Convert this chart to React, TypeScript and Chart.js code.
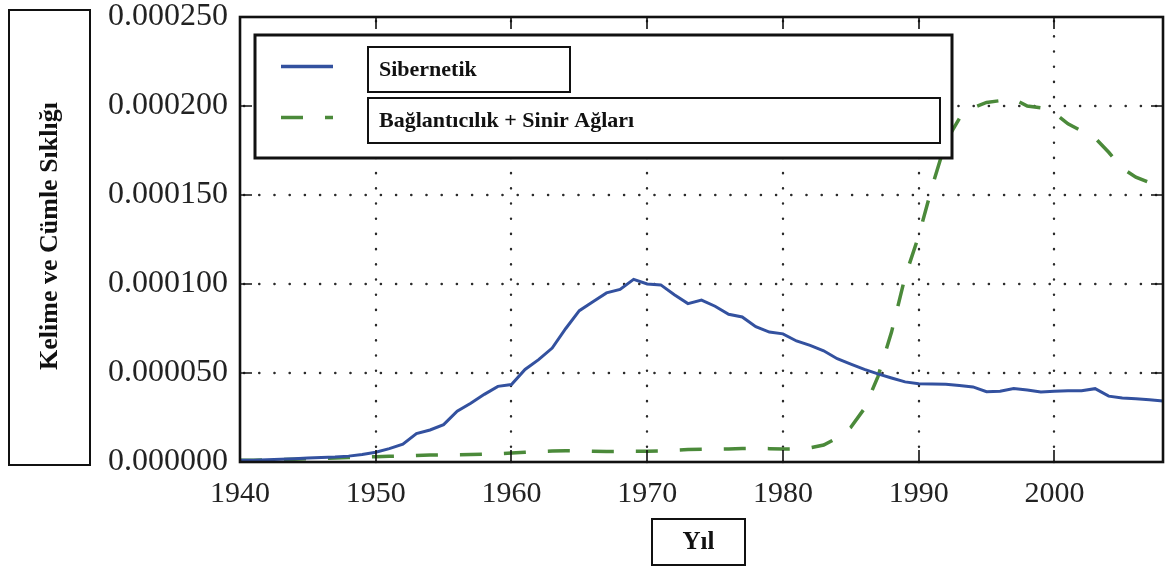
import React, { useEffect, useRef } from "react";
import { Chart, registerables } from "chart.js";

Chart.register(...registerables);

const years: number[] = [];
for (let y = 1940; y <= 2008; y++) years.push(y);

const sibernetik: number[] = [
  1.0e-6, 1.0e-6, 1.2e-6, 1.5e-6, 1.8e-6, 2.2e-6, 2.5e-6, 2.8e-6, 3.3e-6, 4.2e-6, // 1940-1949
  5.5e-6, 7.5e-6, 1.0e-5, 1.6e-5, 1.8e-5, 2.1e-5, 2.85e-5, 3.3e-5, 3.8e-5, 4.25e-5, // 1950-1959
  4.35e-5, 5.2e-5, 5.75e-5, 6.4e-5, 7.5e-5, 8.5e-5, 9.0e-5, 9.5e-5, 9.7e-5, 1.026e-4, // 1960-1969
  1.0e-4, 9.95e-5, 9.4e-5, 8.9e-5, 9.1e-5, 8.75e-5, 8.3e-5, 8.15e-5, 7.6e-5, 7.3e-5, // 1970-1979
  7.2e-5, 6.8e-5, 6.55e-5, 6.25e-5, 5.8e-5, 5.5e-5, 5.2e-5, 4.95e-5, 4.72e-5, 4.5e-5, // 1980-1989
  4.4e-5, 4.38e-5, 4.37e-5, 4.3e-5, 4.22e-5, 3.95e-5, 3.97e-5, 4.13e-5, 4.05e-5, 3.93e-5, // 1990-1999
  3.97e-5, 4.0e-5, 4.0e-5, 4.12e-5, 3.7e-5, 3.6e-5, 3.56e-5, 3.5e-5, 3.42e-5, // 2000-2008
];

const baglantici: number[] = [
  1.0e-6, 1.0e-6, 1.1e-6, 1.3e-6, 1.5e-6, 1.8e-6, 2.0e-6, 2.2e-6, 2.5e-6, 2.8e-6, // 1940-1949
  3.0e-6, 3.2e-6, 3.4e-6, 3.7e-6, 3.9e-6, 4.0e-6, 4.1e-6, 4.2e-6, 4.4e-6, 4.6e-6, // 1950-1959
  5.0e-6, 5.5e-6, 5.9e-6, 6.2e-6, 6.3e-6, 6.2e-6, 6.0e-6, 5.9e-6, 5.9e-6, 6.0e-6, // 1960-1969
  6.0e-6, 6.2e-6, 6.6e-6, 7.0e-6, 7.1e-6, 7.2e-6, 7.3e-6, 7.6e-6, 7.7e-6, 7.5e-6, // 1970-1979
  7.3e-6, 7.4e-6, 8.0e-6, 9.5e-6, 1.35e-5, 1.95e-5, 3.0e-5, 4.8e-5, 7.3e-5, 1.04e-4, // 1980-1989
  1.27e-4, 1.55e-4, 1.8e-4, 1.93e-4, 1.99e-4, 2.02e-4, 2.03e-4, 2.04e-4, 2.0e-4, 1.99e-4, // 1990-1999
  1.96e-4, 1.9e-4, 1.86e-4, 1.82e-4, 1.74e-4, 1.65e-4, 1.6e-4, 1.57e-4, 1.55e-4, // 2000-2008
];

const xTicks: number[] = [1940, 1950, 1960, 1970, 1980, 1990, 2000];
const yTicks: number[] = [0, 0.00005, 0.0001, 0.00015, 0.0002, 0.00025];
const seriesLabels: string[] = ["Sibernetik", "Bağlantıcılık + Sinir Ağları"];
const xTitle = "Yıl";
const yTitle = "Kelime ve Cümle Sıklığı";

const BLUE = "#33519f";
const GREEN = "#4b8a3a";
const SERIF = '"Liberation Serif", "Times New Roman", serif';

const decorPlugin = {
  id: "decor",
  beforeDatasetsDraw(chart: any) {
    const { ctx, chartArea: a, scales } = chart;
    const x = scales.x;
    const y = scales.y;
    ctx.save();
    ctx.strokeStyle = "#2a2a2a";
    ctx.lineWidth = 2.4;
    ctx.lineCap = "round";
    ctx.setLineDash([0.2, 15]);
    x.ticks.forEach((t: any) => {
      const px = Math.round(x.getPixelForValue(t.value));
      if (px <= a.left + 2 || px >= a.right - 2) return;
      ctx.beginPath();
      ctx.moveTo(px, a.top + 4);
      ctx.lineTo(px, a.bottom);
      ctx.stroke();
    });
    y.ticks.forEach((t: any) => {
      const py = Math.round(y.getPixelForValue(t.value));
      if (py <= a.top + 2 || py >= a.bottom - 2) return;
      ctx.beginPath();
      ctx.moveTo(a.left + 4, py);
      ctx.lineTo(a.right, py);
      ctx.stroke();
    });
    ctx.restore();
  },
  afterDatasetsDraw(chart: any) {
    const { ctx, chartArea: a, scales } = chart;
    const x = scales.x;
    const y = scales.y;
    ctx.save();
    ctx.setLineDash([]);
    ctx.strokeStyle = "#111";
    // inward ticks
    ctx.lineWidth = 1.6;
    const tl = 12;
    x.ticks.forEach((t: any) => {
      const px = Math.round(x.getPixelForValue(t.value));
      ctx.beginPath();
      ctx.moveTo(px, a.bottom);
      ctx.lineTo(px, a.bottom - tl);
      ctx.moveTo(px, a.top);
      ctx.lineTo(px, a.top + tl);
      ctx.stroke();
    });
    y.ticks.forEach((t: any) => {
      const py = Math.round(y.getPixelForValue(t.value));
      ctx.beginPath();
      ctx.moveTo(a.left, py);
      ctx.lineTo(a.left + tl, py);
      ctx.moveTo(a.right, py);
      ctx.lineTo(a.right - tl, py);
      ctx.stroke();
    });
    // frame
    ctx.lineWidth = 2.6;
    ctx.strokeRect(a.left, a.top, a.right - a.left, a.bottom - a.top);

    // legend
    const lx = a.left + 15;
    const ly = a.top + 18;
    const lw = 697;
    const lh = 123;
    ctx.fillStyle = "#fff";
    ctx.fillRect(lx, ly, lw, lh);
    ctx.lineWidth = 3;
    ctx.strokeStyle = "#111";
    ctx.strokeRect(lx, ly, lw, lh);
    const rows = [
      { top: ly + 12, width: 202 },
      { top: ly + 63, width: 572 },
    ];
    chart.data.datasets.forEach((ds: any, i: number) => {
      const r = rows[i];
      const cy = r.top + 22.5;
      ctx.save();
      ctx.strokeStyle = ds.borderColor;
      ctx.lineWidth = 3.5;
      ctx.lineCap = "butt";
      ctx.setLineDash(ds.borderDash || []);
      ctx.beginPath();
      ctx.moveTo(lx + 26, cy - 3);
      ctx.lineTo(lx + 78, cy - 3);
      ctx.stroke();
      ctx.restore();
      ctx.lineWidth = 2;
      ctx.strokeStyle = "#111";
      ctx.strokeRect(lx + 113, r.top, r.width, 45);
      ctx.fillStyle = "#111";
      ctx.font = `bold 22px ${SERIF}`;
      ctx.textAlign = "left";
      ctx.textBaseline = "middle";
      ctx.fillText(ds.label, lx + 124, cy + 1);
    });
    ctx.restore();
  },
  afterDraw(chart: any) {
    const { ctx } = chart;
    ctx.save();
    ctx.setLineDash([]);
    ctx.strokeStyle = "#111";
    ctx.fillStyle = "#111";
    ctx.lineWidth = 2;
    // y title box
    ctx.strokeRect(9, 10, 81, 455);
    ctx.save();
    ctx.translate(50, 236);
    ctx.rotate(-Math.PI / 2);
    ctx.font = `bold 26px ${SERIF}`;
    ctx.textAlign = "center";
    ctx.textBaseline = "middle";
    ctx.fillText(yTitle, 0, 0);
    ctx.restore();
    // x title box
    ctx.strokeRect(652, 519, 93, 46);
    ctx.font = `bold 25px ${SERIF}`;
    ctx.textAlign = "center";
    ctx.textBaseline = "middle";
    ctx.fillText(xTitle, 698.5, 543);
    ctx.restore();
  },
};

export default function App() {
  const canvasRef = useRef<HTMLCanvasElement | null>(null);

  useEffect(() => {
    document.body.style.margin = "0";
    const canvas = canvasRef.current;
    if (!canvas) return;
    const chart = new Chart(canvas, {
      type: "line",
      data: {
        datasets: [
          {
            label: seriesLabels[0],
            data: years.map((yr, i) => ({ x: yr, y: sibernetik[i] })),
            borderColor: BLUE,
            borderWidth: 3,
            pointRadius: 0,
            tension: 0,
            fill: false,
          },
          {
            label: seriesLabels[1],
            data: years.map((yr, i) => ({ x: yr, y: baglantici[i] })),
            borderColor: GREEN,
            borderWidth: 3.5,
            borderDash: [22, 22],
            pointRadius: 0,
            tension: 0,
            fill: false,
          },
        ],
      },
      options: {
        animation: false,
        responsive: false,
        devicePixelRatio: 1,
        layout: { padding: { left: 0, right: 3, top: 17, bottom: 0 } },
        plugins: {
          legend: { display: false },
          tooltip: { enabled: false },
        },
        scales: {
          x: {
            type: "linear",
            min: 1940,
            max: 2008,
            afterBuildTicks: (s: any) => {
              s.ticks = xTicks.map((v) => ({ value: v }));
            },
            afterFit: (s: any) => {
              s.height = 105;
              s.paddingLeft = 0;
              s.paddingRight = 0;
            },
            grid: { display: false, drawTicks: false },
            border: { display: false },
            ticks: {
              padding: 14,
              color: "#222",
              maxRotation: 0,
              font: { family: SERIF, size: 30 },
              callback: (v: any) => String(v),
            },
          },
          y: {
            type: "linear",
            min: 0,
            max: 0.00025,
            afterBuildTicks: (s: any) => {
              s.ticks = yTicks.map((v) => ({ value: v }));
            },
            afterFit: (s: any) => {
              s.width = 240;
              s.paddingTop = 0;
              s.paddingBottom = 0;
            },
            grid: { display: false, drawTicks: false },
            border: { display: false },
            ticks: {
              padding: 12,
              color: "#222",
              font: { family: SERIF, size: 32 },
              callback: (v: any) => Number(v).toFixed(6),
            },
          },
        },
      },
      plugins: [decorPlugin],
    } as any);
    return () => chart.destroy();
  }, []);

  return (
    <div style={{ position: "absolute", left: 0, top: 0, width: 1166, height: 567, background: "#fff" }}>
      <canvas ref={canvasRef} width={1166} height={567} style={{ display: "block" }} />
    </div>
  );
}
